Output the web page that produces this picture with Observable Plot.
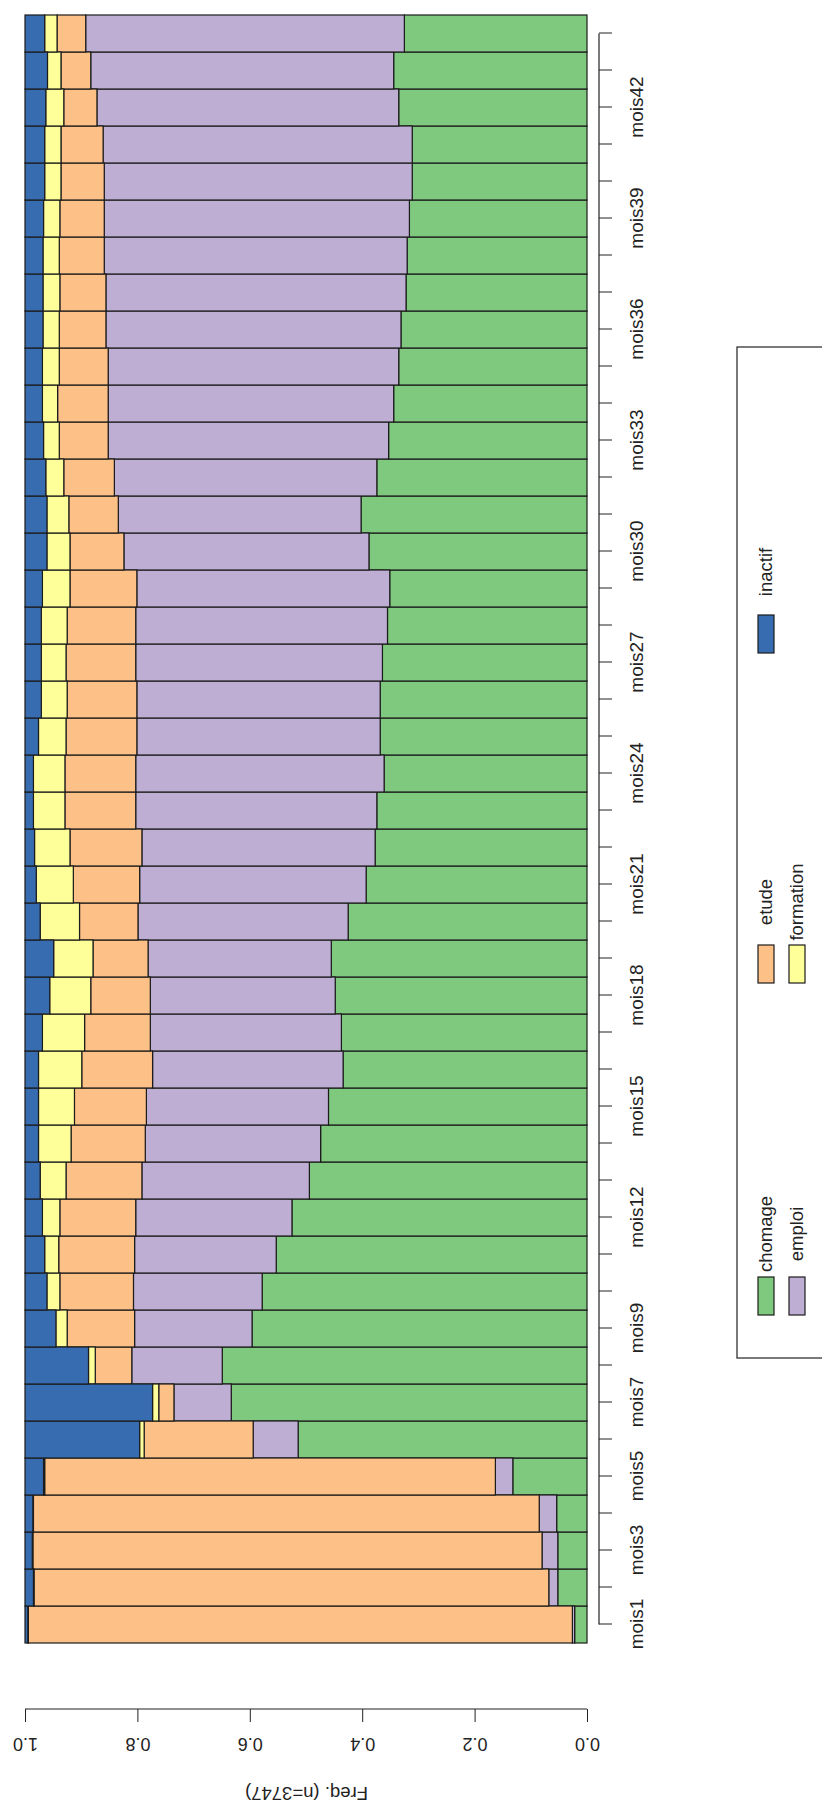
<!DOCTYPE html>
<html>
<head>
<meta charset="utf-8">
<script src="https://cdn.jsdelivr.net/npm/d3@7"></script>
<script src="https://cdn.jsdelivr.net/npm/@observablehq/plot@0.6"></script>
<style>
  html, body { margin: 0; padding: 0; background: #fff; }
  #wrap { position: relative; width: 822px; height: 1803px; overflow: hidden; background: #fff; }
  #wrap svg { position: absolute; left: 0; top: 0; transform-origin: 0 0; transform: translate(0px, 1803px) rotate(-90deg); }
</style>
</head>
<body>
<div id="wrap"></div>
<script>
// ---- data ----
const months = ["mois1","mois2","mois3","mois4","mois5","mois6","mois7","mois8","mois9","mois10",
  "mois11","mois12","mois13","mois14","mois15","mois16","mois17","mois18","mois19","mois20",
  "mois21","mois22","mois23","mois24","mois25","mois26","mois27","mois28","mois29","mois30",
  "mois31","mois32","mois33","mois34","mois35","mois36","mois37","mois38","mois39","mois40",
  "mois41","mois42","mois43","mois44"];
const shownMonthLabels = ["mois1","mois3","mois5","mois7","mois9","mois12","mois15","mois18","mois21",
  "mois24","mois27","mois30","mois33","mois36","mois39","mois42"];
const categories = ["chomage","emploi","etude","formation","inactif"];
const chomage = [.022,.052,.052,.054,.132,.514,.633,.649,.596,.578,.553,.525,.494,.474,.460,.434,.437,.448,.455,.425,.393,.377,.374,.361,.368,.368,.364,.355,.351,.388,.402,.374,.353,.344,.335,.331,.322,.320,.316,.311,.311,.335,.344,.325];
const emploi = [.004,.016,.028,.031,.031,.080,.102,.161,.209,.229,.252,.278,.298,.312,.324,.339,.340,.329,.326,.374,.403,.415,.429,.442,.433,.433,.439,.448,.450,.436,.432,.467,.499,.508,.517,.525,.534,.539,.543,.548,.550,.537,.539,.567];
const etude = [.968,.916,.906,.900,.802,.194,.027,.065,.120,.131,.135,.135,.135,.132,.128,.126,.117,.106,.098,.104,.118,.128,.126,.126,.126,.124,.124,.122,.119,.096,.088,.090,.087,.090,.087,.083,.082,.080,.079,.077,.075,.059,.053,.051];
const formation = [.001,.001,.001,.001,.002,.008,.011,.012,.020,.023,.025,.031,.046,.058,.064,.077,.075,.073,.070,.070,.066,.063,.056,.056,.049,.046,.044,.046,.049,.041,.039,.032,.028,.027,.030,.029,.030,.029,.029,.029,.029,.032,.024,.022];
const inactif = [.005,.015,.013,.014,.033,.204,.227,.113,.055,.039,.035,.031,.027,.024,.024,.024,.031,.044,.051,.027,.020,.017,.015,.015,.024,.029,.029,.029,.031,.039,.039,.037,.033,.031,.031,.032,.032,.032,.033,.035,.035,.037,.040,.035];
const valueTicks = [0, 0.2, 0.4, 0.6, 0.8, 1.0];
const valueLabel = "Freq. (n=3747)";
const colors = ["#7fc97f","#beaed4","#fdc086","#ffff99","#386cb0"];

// ---- build ----
const seriesMap = {chomage, emploi, etude, formation, inactif};
const rows = categories.flatMap(c => months.map((m, i) => ({month: m, cat: c, value: seriesMap[c][i]})));

const W = 1803, H = 822;
const FONT = "'Liberation Sans', Arial, Helvetica, sans-serif";
const INK = "#222";
const mL = 160, mR = 15, mT = 25, mB = 235;
const yAxisOffset = 66;   // distance of value axis line left of the bars
const xAxisOffset = 12;   // distance of month axis line below the bars

const plot = Plot.plot({
  width: W, height: H,
  marginLeft: mL, marginRight: mR, marginTop: mT, marginBottom: mB,
  style: {maxWidth: "none", background: "#fff", fontFamily: FONT, fontSize: "19px", color: INK, overflow: "visible"},
  x: {type: "band", domain: months, padding: 0, axis: null},
  y: {domain: [0, 1], axis: null},
  color: {domain: categories, range: colors},
  marks: [
    Plot.barY(rows, {x: "month", y: "value", fill: "cat", order: categories, stroke: "#1c1c1c", strokeWidth: 1.2}),
    Plot.axisY({ticks: valueTicks, tickFormat: d => d.toFixed(1), tickSize: 13, tickPadding: 16,
      tickRotate: -90, textAnchor: "middle", lineAnchor: "bottom", dx: -yAxisOffset, label: null, fontSize: 18}),
    Plot.axisX({ticks: months, tickFormat: m => shownMonthLabels.includes(m) ? m : "", tickSize: 13,
      tickPadding: 17, dy: xAxisOffset, label: null, fontSize: 19}),
    Plot.text([valueLabel], {text: d => d, frameAnchor: "left", dx: 16 - mL, rotate: -90,
      textAnchor: "middle", lineAnchor: "bottom", fontSize: 18.5, fill: INK})
  ]
});

// axis lines (R style) from the plot's scales
const sx = plot.scale("x"), sy = plot.scale("y");
const svg = d3.select(plot);
const bw = sx.bandwidth;
svg.append("line")
  .attr("x1", mL - yAxisOffset).attr("x2", mL - yAxisOffset)
  .attr("y1", sy.apply(0)).attr("y2", sy.apply(1))
  .attr("stroke", INK).attr("stroke-width", 1.2);
svg.append("line")
  .attr("x1", sx.apply(months[0]) + bw / 2).attr("x2", sx.apply(months[months.length - 1]) + bw / 2)
  .attr("y1", sy.apply(0) + xAxisOffset).attr("y2", sy.apply(0) + xAxisOffset)
  .attr("stroke", INK).attr("stroke-width", 1.2);

// legend (box below the month labels, 3 columns x 2 rows, filled by column)
const lg = svg.append("g").attr("font-family", FONT).attr("font-size", 18.5).attr("fill", INK);
lg.append("rect").attr("x", 445).attr("y", 737).attr("width", 1011).attr("height", 110)
  .attr("fill", "none").attr("stroke", "#333").attr("stroke-width", 1.3);
const colX = [488, 820, 1150], rowY = [758, 789];
categories.forEach((c, i) => {
  const cx = colX[Math.floor(i / 2)], ry = rowY[i % 2];
  lg.append("rect").attr("x", cx).attr("y", ry).attr("width", 38).attr("height", 16)
    .attr("fill", colors[i]).attr("stroke", "#1c1c1c").attr("stroke-width", 1.2);
  lg.append("text").attr("x", cx + 81).attr("y", ry + 14).text(c);
});

document.getElementById("wrap").appendChild(plot);
</script>
</body>
</html>
